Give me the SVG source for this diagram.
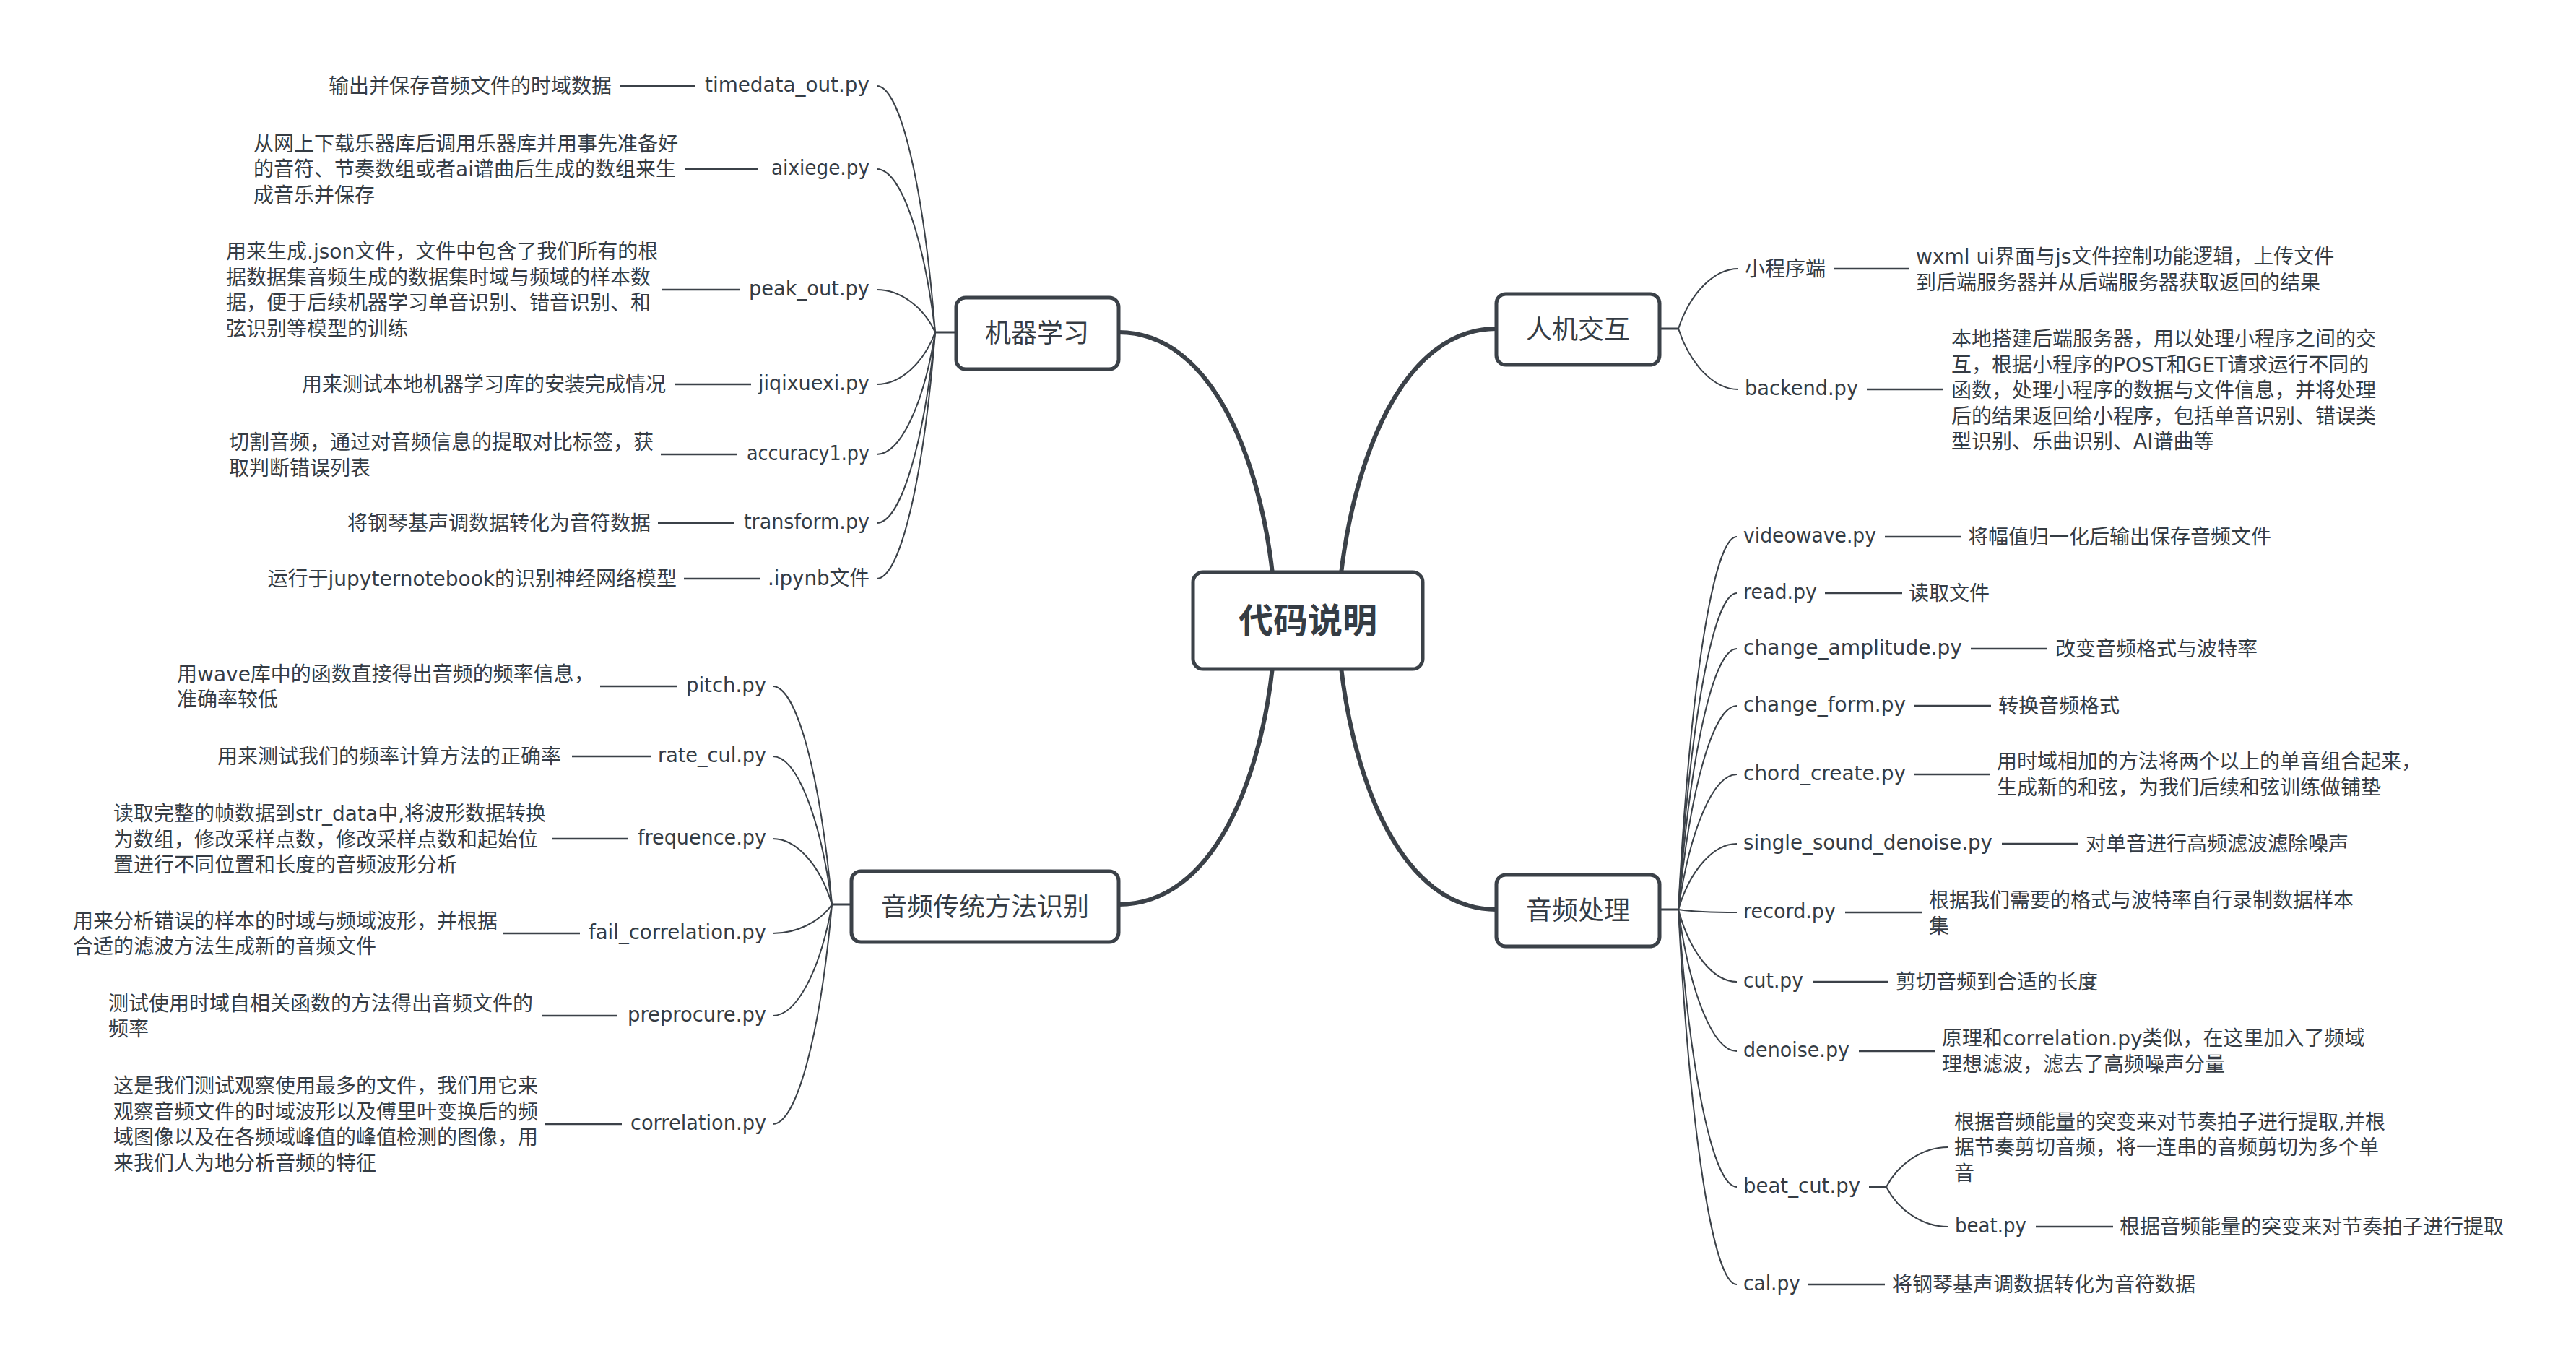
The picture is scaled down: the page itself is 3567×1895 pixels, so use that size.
<svg xmlns="http://www.w3.org/2000/svg" width="3567" height="1895" viewBox="0 0 3567 1895">
  <style>
    .t { font-family: "DejaVu Sans", "Noto Sans CJK SC", sans-serif; font-size: 28px; fill: #353c44; }
    .l { text-anchor: end; }
    .main { font-size: 36px; text-anchor: middle; }
    .root { font-size: 48px; font-weight: bold; text-anchor: middle; }
    .box { fill: #ffffff; stroke: #3b4148; stroke-width: 5; }
    .trunk { fill: none; stroke: #3b4148; stroke-width: 6; stroke-linecap: round; }
    .stem { fill: none; stroke: #3b4148; stroke-width: 3; }
    .twig { fill: none; stroke: #3b4148; stroke-width: 2; }
    .link { stroke: #3b4148; stroke-width: 2.5; }
  </style>
  <rect width="3567" height="1895" fill="#ffffff"/>

  <!-- connectors -->
  <g id="connectors">
    <!-- trunks from the root -->
    <path class="trunk" d="M1762,794 C1745,640 1680,460 1549,460"/>
    <path class="trunk" d="M1857,794 C1875,640 1940,455 2072,455"/>
    <path class="trunk" d="M1762,924 C1745,1080 1680,1252 1549,1252"/>
    <path class="trunk" d="M1857,924 C1875,1080 1940,1259 2072,1259"/>

    <!-- stems from branch boxes to junctions -->
    <path class="stem" d="M1324,460 H1295"/>
    <path class="stem" d="M1179,1252 H1152"/>
    <path class="stem" d="M2298,455 H2324"/>
    <path class="stem" d="M2298,1259 H2324"/>
    <path class="stem" d="M2588,1643 H2612"/>

    <!-- 机器学习 twigs -->
    <path class="twig" d="M1214,119 C1246.4,119 1278.8,255.4 1295,460"/>
    <path class="twig" d="M1214,234 C1246.4,234 1278.8,324.4 1295,460"/>
    <path class="twig" d="M1214,401 C1246.4,401 1278.8,424.6 1295,460"/>
    <path class="twig" d="M1214,532 C1246.4,532 1278.8,503.2 1295,460"/>
    <path class="twig" d="M1214,629 C1246.4,629 1278.8,561.4 1295,460"/>
    <path class="twig" d="M1214,724 C1246.4,724 1278.8,618.4 1295,460"/>
    <path class="twig" d="M1214,801 C1246.4,801 1278.8,664.6 1295,460"/>

    <!-- 音频传统方法识别 twigs -->
    <path class="twig" d="M1070,950 C1102.8,950 1135.6,1070.8 1152,1252"/>
    <path class="twig" d="M1070,1047 C1102.8,1047 1135.6,1129 1152,1252"/>
    <path class="twig" d="M1070,1161 C1102.8,1161 1135.6,1197.4 1152,1252"/>
    <path class="twig" d="M1070,1292 C1102.8,1292 1135.6,1276 1152,1252"/>
    <path class="twig" d="M1070,1406 C1102.8,1406 1135.6,1344.4 1152,1252"/>
    <path class="twig" d="M1070,1556 C1102.8,1556 1135.6,1434.4 1152,1252"/>

    <!-- 人机交互 twigs -->
    <path class="twig" d="M2407,372 C2373.8,372 2340.6,405.2 2324,455"/>
    <path class="twig" d="M2407,539 C2373.8,539 2340.6,505.4 2324,455"/>

    <!-- 音频处理 twigs -->
    <path class="twig" d="M2405,743 C2372.6,743 2340.2,949.4 2324,1259"/>
    <path class="twig" d="M2405,821 C2372.6,821 2340.2,996.2 2324,1259"/>
    <path class="twig" d="M2405,898 C2372.6,898 2340.2,1042.4 2324,1259"/>
    <path class="twig" d="M2405,977 C2372.6,977 2340.2,1089.8 2324,1259"/>
    <path class="twig" d="M2405,1072 C2372.6,1072 2340.2,1146.8 2324,1259"/>
    <path class="twig" d="M2405,1168 C2372.6,1168 2340.2,1204.4 2324,1259"/>
    <path class="twig" d="M2405,1263 C2372.6,1263 2340.2,1261.4 2324,1259"/>
    <path class="twig" d="M2405,1359 C2372.6,1359 2340.2,1319 2324,1259"/>
    <path class="twig" d="M2405,1455 C2372.6,1455 2340.2,1376.6 2324,1259"/>
    <path class="twig" d="M2405,1643 C2372.6,1643 2340.2,1489.4 2324,1259"/>
    <path class="twig" d="M2405,1778 C2372.6,1778 2340.2,1570.4 2324,1259"/>

    <!-- beat_cut.py twigs -->
    <path class="twig" d="M2697,1588 C2663,1588 2629,1610 2612,1643"/>
    <path class="twig" d="M2697,1698 C2663,1698 2629,1676 2612,1643"/>

    <!-- label to description links -->
    <path class="link" d="M858,119 H963 M949,234 H1049 M917,401 H1024 M934,532 H1040 M915,629 H1021 M911,724 H1017 M947,801 H1053"/>
    <path class="link" d="M831,950 H937 M792,1047 H901 M764,1161 H869 M697,1292 H803 M750,1406 H855 M755,1556 H861"/>
    <path class="link" d="M2539,372 H2644 M2585,539 H2691"/>
    <path class="link" d="M2610,743 H2715 M2527,821 H2634 M2729,898 H2835 M2650,977 H2757 M2650,1072 H2755 M2772,1168 H2878 M2555,1263 H2662 M2510,1359 H2615 M2574,1455 H2680 M2819,1698 H2926 M2504,1778 H2610"/>
  </g>

  <!-- root -->
  <g id="root">
    <rect class="box" x="1652" y="792" width="318" height="134" rx="14"/>
    <text class="t root" x="1811" y="876">代码说明</text>
  </g>

  <!-- 机器学习 branch -->
  <g id="ml">
    <rect class="box" x="1324" y="412" width="225" height="99" rx="13"/>
    <text class="t main" x="1436" y="474">机器学习</text>
  </g>
  <g id="ml-timedata">
    <text class="t l" x="1204" y="127" textLength="228" lengthAdjust="spacingAndGlyphs">timedata_out.py</text>
    <text class="t l" x="847" y="129">输出并保存音频文件的时域数据</text>
  </g>
  <g id="ml-aixiege">
    <text class="t l" x="1204" y="242" textLength="136" lengthAdjust="spacingAndGlyphs">aixiege.py</text>
    <text class="t" x="351" y="208.5">从网上下载乐器库后调用乐器库并用事先准备好</text>
    <text class="t" x="351" y="244">的音符、节奏数组或者ai谱曲后生成的数组来生</text>
    <text class="t" x="351" y="279.5">成音乐并保存</text>
  </g>
  <g id="ml-peak">
    <text class="t l" x="1204" y="409" textLength="167" lengthAdjust="spacingAndGlyphs">peak_out.py</text>
    <text class="t" x="313" y="358">用来生成.json文件，文件中包含了我们所有的根</text>
    <text class="t" x="313" y="393.5">据数据集音频生成的数据集时域与频域的样本数</text>
    <text class="t" x="313" y="429">据，便于后续机器学习单音识别、错音识别、和</text>
    <text class="t" x="313" y="464.5">弦识别等模型的训练</text>
  </g>
  <g id="ml-jiqixuexi">
    <text class="t l" x="1204" y="540" textLength="154" lengthAdjust="spacingAndGlyphs">jiqixuexi.py</text>
    <text class="t l" x="922" y="542">用来测试本地机器学习库的安装完成情况</text>
  </g>
  <g id="ml-accuracy">
    <text class="t l" x="1204" y="637" textLength="170" lengthAdjust="spacingAndGlyphs">accuracy1.py</text>
    <text class="t" x="317" y="622">切割音频，通过对音频信息的提取对比标签，获</text>
    <text class="t" x="317" y="657.5">取判断错误列表</text>
  </g>
  <g id="ml-transform">
    <text class="t l" x="1204" y="732" textLength="174" lengthAdjust="spacingAndGlyphs">transform.py</text>
    <text class="t l" x="901" y="734">将钢琴基声调数据转化为音符数据</text>
  </g>
  <g id="ml-ipynb">
    <text class="t l" x="1204" y="810" textLength="141" lengthAdjust="spacingAndGlyphs">.ipynb文件</text>
    <text class="t l" x="937" y="811">运行于jupyternotebook的识别神经网络模型</text>
  </g>

  <!-- 音频传统方法识别 branch -->
  <g id="trad">
    <rect class="box" x="1179" y="1206" width="370" height="98" rx="13"/>
    <text class="t main" x="1364" y="1268">音频传统方法识别</text>
  </g>
  <g id="trad-pitch">
    <text class="t l" x="1061" y="958" textLength="111" lengthAdjust="spacingAndGlyphs">pitch.py</text>
    <text class="t" x="245" y="942.5">用wave库中的函数直接得出音频的频率信息，</text>
    <text class="t" x="245" y="978">准确率较低</text>
  </g>
  <g id="trad-rate">
    <text class="t l" x="1061" y="1055" textLength="150" lengthAdjust="spacingAndGlyphs">rate_cul.py</text>
    <text class="t l" x="777" y="1057">用来测试我们的频率计算方法的正确率</text>
  </g>
  <g id="trad-frequence">
    <text class="t l" x="1061" y="1169" textLength="178" lengthAdjust="spacingAndGlyphs">frequence.py</text>
    <text class="t" x="157" y="1136">读取完整的帧数据到str_data中,将波形数据转换</text>
    <text class="t" x="157" y="1171.5">为数组，修改采样点数，修改采样点数和起始位</text>
    <text class="t" x="157" y="1207">置进行不同位置和长度的音频波形分析</text>
  </g>
  <g id="trad-fail">
    <text class="t l" x="1061" y="1300" textLength="246" lengthAdjust="spacingAndGlyphs">fail_correlation.py</text>
    <text class="t" x="101" y="1284.5">用来分析错误的样本的时域与频域波形，并根据</text>
    <text class="t" x="101" y="1320">合适的滤波方法生成新的音频文件</text>
  </g>
  <g id="trad-preprocure">
    <text class="t l" x="1061" y="1414" textLength="192" lengthAdjust="spacingAndGlyphs">preprocure.py</text>
    <text class="t" x="150" y="1398.5">测试使用时域自相关函数的方法得出音频文件的</text>
    <text class="t" x="150" y="1434">频率</text>
  </g>
  <g id="trad-correlation">
    <text class="t l" x="1061" y="1564" textLength="188" lengthAdjust="spacingAndGlyphs">correlation.py</text>
    <text class="t" x="157" y="1513">这是我们测试观察使用最多的文件，我们用它来</text>
    <text class="t" x="157" y="1548.5">观察音频文件的时域波形以及傅里叶变换后的频</text>
    <text class="t" x="157" y="1584">域图像以及在各频域峰值的峰值检测的图像，用</text>
    <text class="t" x="157" y="1619.5">来我们人为地分析音频的特征</text>
  </g>

  <!-- 人机交互 branch -->
  <g id="hci">
    <rect class="box" x="2072" y="407" width="226" height="98" rx="13"/>
    <text class="t main" x="2185" y="469">人机交互</text>
  </g>
  <g id="hci-mini">
    <text class="t" x="2416" y="382">小程序端</text>
    <text class="t" x="2653" y="365">wxml ui界面与js文件控制功能逻辑，上传文件</text>
    <text class="t" x="2653" y="400.5">到后端服务器并从后端服务器获取返回的结果</text>
  </g>
  <g id="hci-backend">
    <text class="t" x="2416" y="547" textLength="157" lengthAdjust="spacingAndGlyphs">backend.py</text>
    <text class="t" x="2702" y="479">本地搭建后端服务器，用以处理小程序之间的交</text>
    <text class="t" x="2702" y="514.5">互，根据小程序的POST和GET请求运行不同的</text>
    <text class="t" x="2702" y="550">函数，处理小程序的数据与文件信息，并将处理</text>
    <text class="t" x="2702" y="585.5">后的结果返回给小程序，包括单音识别、错误类</text>
    <text class="t" x="2702" y="621">型识别、乐曲识别、AI谱曲等</text>
  </g>

  <!-- 音频处理 branch -->
  <g id="proc">
    <rect class="box" x="2072" y="1211" width="226" height="99" rx="13"/>
    <text class="t main" x="2185" y="1273">音频处理</text>
  </g>
  <g id="proc-videowave">
    <text class="t" x="2414" y="751" textLength="184" lengthAdjust="spacingAndGlyphs">videowave.py</text>
    <text class="t" x="2725" y="753">将幅值归一化后输出保存音频文件</text>
  </g>
  <g id="proc-read">
    <text class="t" x="2414" y="829" textLength="102" lengthAdjust="spacingAndGlyphs">read.py</text>
    <text class="t" x="2643" y="831">读取文件</text>
  </g>
  <g id="proc-amplitude">
    <text class="t" x="2414" y="906" textLength="303" lengthAdjust="spacingAndGlyphs">change_amplitude.py</text>
    <text class="t" x="2846" y="908">改变音频格式与波特率</text>
  </g>
  <g id="proc-form">
    <text class="t" x="2414" y="985" textLength="225" lengthAdjust="spacingAndGlyphs">change_form.py</text>
    <text class="t" x="2767" y="987">转换音频格式</text>
  </g>
  <g id="proc-chord">
    <text class="t" x="2414" y="1080" textLength="225" lengthAdjust="spacingAndGlyphs">chord_create.py</text>
    <text class="t" x="2765" y="1064">用时域相加的方法将两个以上的单音组合起来，</text>
    <text class="t" x="2765" y="1099.5">生成新的和弦，为我们后续和弦训练做铺垫</text>
  </g>
  <g id="proc-single">
    <text class="t" x="2414" y="1176" textLength="345" lengthAdjust="spacingAndGlyphs">single_sound_denoise.py</text>
    <text class="t" x="2888" y="1178">对单音进行高频滤波滤除噪声</text>
  </g>
  <g id="proc-record">
    <text class="t" x="2414" y="1271" textLength="128" lengthAdjust="spacingAndGlyphs">record.py</text>
    <text class="t" x="2671" y="1256">根据我们需要的格式与波特率自行录制数据样本</text>
    <text class="t" x="2671" y="1291.5">集</text>
  </g>
  <g id="proc-cut">
    <text class="t" x="2414" y="1367" textLength="83" lengthAdjust="spacingAndGlyphs">cut.py</text>
    <text class="t" x="2625" y="1369">剪切音频到合适的长度</text>
  </g>
  <g id="proc-denoise">
    <text class="t" x="2414" y="1463" textLength="147" lengthAdjust="spacingAndGlyphs">denoise.py</text>
    <text class="t" x="2689" y="1447">原理和correlation.py类似，在这里加入了频域</text>
    <text class="t" x="2689" y="1482.5">理想滤波，滤去了高频噪声分量</text>
  </g>
  <g id="proc-beatcut">
    <text class="t" x="2414" y="1651" textLength="162" lengthAdjust="spacingAndGlyphs">beat_cut.py</text>
  </g>
  <g id="proc-beatcut-desc">
    <text class="t" x="2706" y="1562.5">根据音频能量的突变来对节奏拍子进行提取,并根</text>
    <text class="t" x="2706" y="1598">据节奏剪切音频，将一连串的音频剪切为多个单</text>
    <text class="t" x="2706" y="1633.5">音</text>
  </g>
  <g id="proc-beat">
    <text class="t" x="2707" y="1706" textLength="99" lengthAdjust="spacingAndGlyphs">beat.py</text>
    <text class="t" x="2935" y="1708">根据音频能量的突变来对节奏拍子进行提取</text>
  </g>
  <g id="proc-cal">
    <text class="t" x="2414" y="1786" textLength="79" lengthAdjust="spacingAndGlyphs">cal.py</text>
    <text class="t" x="2620" y="1788">将钢琴基声调数据转化为音符数据</text>
  </g>
</svg>
